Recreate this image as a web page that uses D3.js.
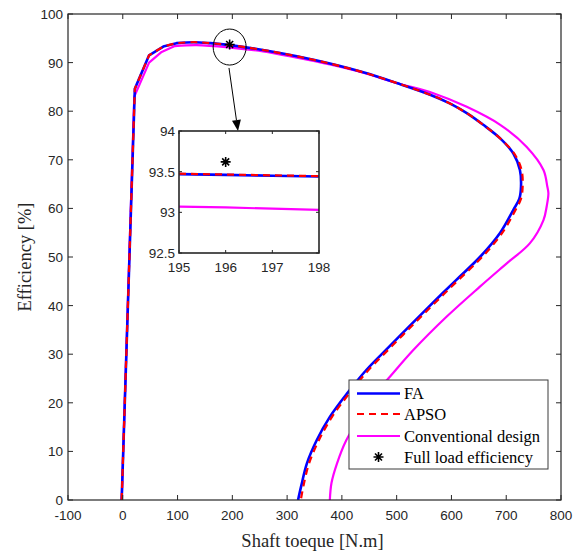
<!DOCTYPE html>
<html><head><meta charset="utf-8">
<script src="https://cdn.jsdelivr.net/npm/d3@7"></script>
<style>html,body{margin:0;padding:0;background:#fff;}svg{display:block;}</style>
</head><body>
<script>
// ---- data ----
const xTicks = [-100,0,100,200,300,400,500,600,700,800];
const yTicks = [0,10,20,30,40,50,60,70,80,90,100];
const faTorque = [-2,22,48,74,98,130,160,196,256,318,378,439,500,561,597,628,658,689,713,725,727,724,713,689,652,609,568,527,485,445,410,378,354,336,326,320];
const faEff    = [0,84.6,91.5,93.3,94.0,94.2,94.0,93.6,92.6,91.3,89.8,88.0,85.8,83.4,81.6,79.6,77.2,74.4,71.3,67.9,64.5,62.0,59.7,55.0,50.0,45.3,40.8,36.2,31.4,26.8,22.0,17.1,12.3,7.5,3.0,0];
const apsoTorque = [-2,22,48,74,98,130,160,196,256,318,378,439,500,561,597,628,658,689,715,728,730,727,717,693,656,613,572,531,489,449,414,382,358,340,330,325];
const apsoEff    = [0,84.6,91.5,93.3,94.0,94.2,94.0,93.6,92.6,91.3,89.8,88.0,85.8,83.4,81.6,79.6,77.2,74.4,71.2,67.9,64.5,62.0,59.7,55.0,50.0,45.3,40.8,36.2,31.4,26.8,22.0,17.1,12.3,7.5,3.0,0];
const convTorque = [-2,21,48,71,95,135,196,256,318,378,439,500,567,628,689,737,768,775,777,774,768,743,701,652,591,530,488,462,433,408,391,381,378];
const convEff    = [0,83.0,90.0,92.2,93.4,93.6,93.1,92.3,91.0,89.6,87.9,85.8,83.7,80.9,77.2,72.7,67.9,64.5,63.1,60.5,57.6,52.8,48.7,43.9,37.7,30.8,25.4,22.0,17.0,12.3,7.5,3.5,0];
const fullLoad = [196, 93.62];
// inset (zoomed) values
const insetXTicks = [195,196,197,198];
const insetYTicks = [92.5,93,93.5,94];
const insetLabels = ["92.5","93","93.5","94"];
const insetTorque = [195,196,197,198];
const insetFA   = [93.47,93.46,93.45,93.44];
const insetAPSO = [93.475,93.465,93.455,93.445];
const insetConv = [93.07,93.06,93.045,93.03];
const seriesNames = ["FA","APSO","Conventional design","Full load efficiency"];

// ---- layout ----
const W=579,H=553, L=68,R=561,T=14,B=500;
const svg=d3.select("body").append("svg").attr("width",W).attr("height",H);
const x=d3.scaleLinear().domain([-100,800]).range([L,R]);
const y=d3.scaleLinear().domain([0,100]).range([B,T]);
const axisCol="#262626";
const tickFont="'Liberation Sans', Arial, sans-serif";
const serif="'Liberation Serif','Times New Roman',serif";

svg.append("defs").append("clipPath").attr("id","clipMain").append("rect")
  .attr("x",L).attr("y",T).attr("width",R-L).attr("height",B-T);

const styles=[
  {col:"#0000ff",w:2.6,dash:null},
  {col:"#ff0000",w:2.2,dash:"7,5"},
  {col:"#ff00ff",w:2.2,dash:null}
];
const mainSeries=[[faTorque,faEff],[apsoTorque,apsoEff],[convTorque,convEff]];
const lineLin=d3.line().x(d=>x(d[0])).y(d=>y(d[1]));
const lineSmooth=d3.line().x(d=>x(d[0])).y(d=>y(d[1])).curve(d3.curveCatmullRom.alpha(0.5));
const gLines=svg.append("g").attr("clip-path","url(#clipMain)");
// draw conventional first, then FA, then APSO on top
[2,0,1].forEach(i=>{
  const pts=mainSeries[i][0].map((t,k)=>[t,mainSeries[i][1][k]]);
  const d=lineLin(pts.slice(0,5))+lineSmooth(pts.slice(4)).replace(/^M[^CL]*/,"");
  gLines.append("path").attr("d",d).attr("fill","none")
    .attr("stroke",styles[i].col).attr("stroke-width",styles[i].w)
    .attr("stroke-dasharray",styles[i].dash).attr("stroke-linejoin","round");
});

function star(g,cx,cy,r){
  const p=`M${cx-r},${cy}L${cx+r},${cy}M${cx},${cy-r}L${cx},${cy+r}`+
    `M${cx-r*0.7},${cy-r*0.7}L${cx+r*0.7},${cy+r*0.7}M${cx-r*0.7},${cy+r*0.7}L${cx+r*0.7},${cy-r*0.7}`;
  g.append("path").attr("d",p).attr("stroke","#000").attr("stroke-width",1.6).attr("fill","none");
}
star(svg,x(fullLoad[0])-0.5,y(fullLoad[1])-0.5,5);

// axes box & ticks
svg.append("rect").attr("x",L).attr("y",T).attr("width",R-L).attr("height",B-T)
  .attr("fill","none").attr("stroke",axisCol).attr("stroke-width",1.2);
const tl=5;
const gx=svg.append("g");
xTicks.forEach(v=>{
  const px=x(v);
  gx.append("line").attr("x1",px).attr("x2",px).attr("y1",B).attr("y2",B-tl).attr("stroke",axisCol);
  gx.append("line").attr("x1",px).attr("x2",px).attr("y1",T).attr("y2",T+tl).attr("stroke",axisCol);
  gx.append("text").attr("x",px).attr("y",B+20).attr("text-anchor","middle")
    .attr("font-family",tickFont).attr("font-size",13.5).attr("fill",axisCol).text(v);
});
yTicks.forEach(v=>{
  const py=y(v);
  gx.append("line").attr("x1",L).attr("x2",L+tl).attr("y1",py).attr("y2",py).attr("stroke",axisCol);
  gx.append("line").attr("x1",R).attr("x2",R-tl).attr("y1",py).attr("y2",py).attr("stroke",axisCol);
  gx.append("text").attr("x",L-5).attr("y",py+5).attr("text-anchor","end")
    .attr("font-family",tickFont).attr("font-size",13.5).attr("fill",axisCol).text(v);
});
svg.append("text").attr("x",(L+R)/2-2).attr("y",547).attr("text-anchor","middle")
  .attr("font-family",serif).attr("font-size",18.5).attr("fill",axisCol).text("Shaft toeque [N.m]");
svg.append("text").attr("transform",`translate(31,${(T+B)/2}) rotate(-90)`).attr("text-anchor","middle")
  .attr("font-family",serif).attr("font-size",18.5).attr("fill",axisCol).text("Efficiency [%]");

// ---- annotation: ellipse and arrow ----
const eCx=x(196)-0.5, eCy=y(93.2);
svg.append("ellipse").attr("cx",eCx).attr("cy",eCy).attr("rx",16.5).attr("ry",18)
  .attr("fill","none").attr("stroke","#000").attr("stroke-width",1);

// inset placement
const iL=179,iR=319,iT=131,iB=253;
const ax1=x(193.9), ay1=y(88.9), ax2=iL+59, ay2=iT;
const ang=Math.atan2(ay2-ay1,ax2-ax1), hl=11, hw=4.5;
const bx=ax2-hl*Math.cos(ang), by=ay2-hl*Math.sin(ang);
svg.append("line").attr("x1",ax1).attr("y1",ay1).attr("x2",bx).attr("y2",by).attr("stroke","#000").attr("stroke-width",1);
svg.append("path").attr("d",`M${ax2},${ay2}L${bx+hw*Math.sin(ang)},${by-hw*Math.cos(ang)}L${bx-hw*Math.sin(ang)},${by+hw*Math.cos(ang)}Z`)
  .attr("fill","#000");

// ---- inset ----
const xi=d3.scaleLinear().domain([195,198]).range([iL,iR]);
const yi=d3.scaleLinear().domain([92.5,94]).range([iB,iT]);
const gi=svg.append("g");
gi.append("rect").attr("x",iL).attr("y",iT).attr("width",iR-iL).attr("height",iB-iT).attr("fill","#fff");
const lineI=d3.line().x(d=>xi(d[0])).y(d=>yi(d[1]));
const insetSeries=[insetFA,insetAPSO,insetConv];
[2,0,1].forEach(i=>{
  const pts=insetTorque.map((t,k)=>[t,insetSeries[i][k]]);
  gi.append("path").attr("d",lineI(pts)).attr("fill","none")
    .attr("stroke",styles[i].col).attr("stroke-width",styles[i].w)
    .attr("stroke-dasharray",styles[i].dash);
});
star(gi,xi(fullLoad[0]),yi(fullLoad[1]),5);
gi.append("rect").attr("x",iL).attr("y",iT).attr("width",iR-iL).attr("height",iB-iT)
  .attr("fill","none").attr("stroke",axisCol).attr("stroke-width",1.6);
insetXTicks.forEach(v=>{
  const px=xi(v);
  gi.append("line").attr("x1",px).attr("x2",px).attr("y1",iB).attr("y2",iB-3).attr("stroke",axisCol);
  gi.append("line").attr("x1",px).attr("x2",px).attr("y1",iT).attr("y2",iT+3).attr("stroke",axisCol);
  gi.append("text").attr("x",px).attr("y",iB+19).attr("text-anchor","middle")
    .attr("font-family",tickFont).attr("font-size",13.5).attr("fill",axisCol).text(v);
});
insetYTicks.forEach((v,k)=>{
  const py=yi(v);
  gi.append("line").attr("x1",iL).attr("x2",iL+3).attr("y1",py).attr("y2",py).attr("stroke",axisCol);
  gi.append("line").attr("x1",iR).attr("x2",iR-3).attr("y1",py).attr("y2",py).attr("stroke",axisCol);
  gi.append("text").attr("x",iL-4).attr("y",py+5).attr("text-anchor","end")
    .attr("font-family",tickFont).attr("font-size",13.5).attr("fill",axisCol).text(insetLabels[k]);
});

// ---- legend ----
const lgX=349,lgY=380,lgW=199,lgH=89;
const lg=svg.append("g");
lg.append("rect").attr("x",lgX).attr("y",lgY).attr("width",lgW).attr("height",lgH)
  .attr("fill","#fff").attr("stroke","#3a3a3a").attr("stroke-width",1);
const rowY=[393.5,414,436,457];
seriesNames.forEach((n,i)=>{
  const yy=rowY[i];
  if(i<3){
    lg.append("line").attr("x1",357).attr("x2",400).attr("y1",yy).attr("y2",yy)
      .attr("stroke",styles[i].col).attr("stroke-width",styles[i].w).attr("stroke-dasharray",styles[i].dash);
  } else {
    star(lg,378.5,yy,5);
  }
  lg.append("text").attr("x",404).attr("y",yy+5.5).attr("font-family",serif).attr("font-size",16.5)
    .attr("fill","#000").text(n);
});
</script>
</body></html>
